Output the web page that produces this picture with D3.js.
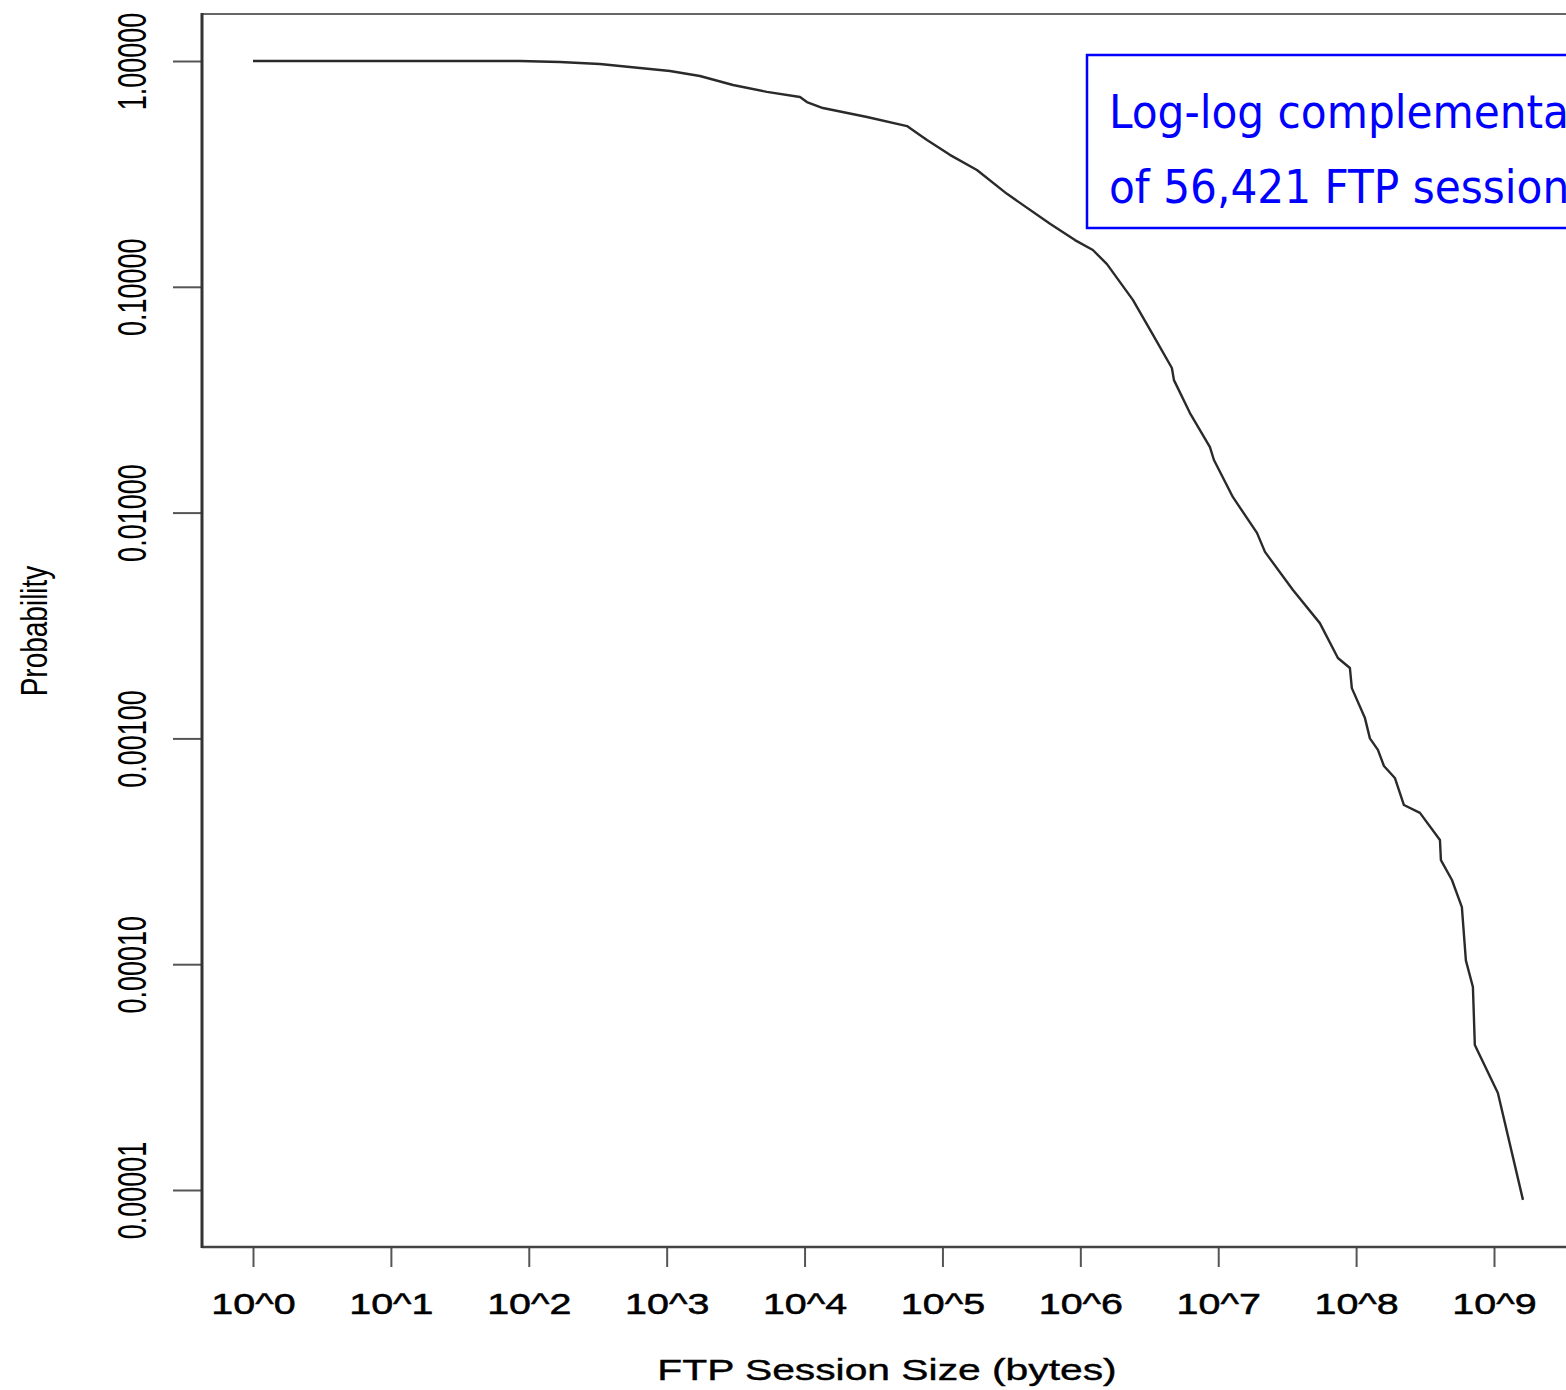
<!DOCTYPE html>
<html>
<head>
<meta charset="utf-8">
<script src="https://cdn.jsdelivr.net/npm/d3@7"></script>
<style>
  body { margin: 0; background: #fff; }
  svg { display: block; }
</style>
</head>
<body>
<svg id="chart" width="1566" height="1390"></svg>
<script>
// session size (bytes) vs. P(size > x)
var sizes = [1, 11.6, 86, 168, 328, 640, 1057, 1742, 3027, 5333, 9268, 10400, 13580,
  28380, 55340, 65310, 77270, 113200, 177800, 293800, 602600, 914100,
  1.233e6, 1.56e6, 2.404e6, 3.365e6, 4.613e6, 4.775e6, 6.237e6, 8.71e6, 9.311e6,
  1.279e7, 1.91e7, 2.183e7, 3.483e7, 5.458e7, 7.379e7, 9.016e7, 9.311e7,
  1.159e8, 1.259e8, 1.439e8, 1.592e8, 1.91e8, 2.223e8, 2.904e8, 4.055e8, 4.121e8,
  4.955e8, 5.848e8, 6.252e8, 7.031e8, 7.261e8, 1.067e9, 1.622e9];
var probs = [1, 1, 1, 0.990, 0.970, 0.931, 0.903, 0.858, 0.783, 0.730, 0.693, 0.658, 0.619,
  0.565, 0.515, 0.480, 0.447, 0.384, 0.329, 0.258, 0.190, 0.161,
  0.1455, 0.126, 0.0875, 0.0612, 0.0437, 0.0386, 0.0276, 0.0195, 0.0171,
  0.0117, 0.00813, 0.0067, 0.00454, 0.00324, 0.00227, 0.00205, 0.00167,
  0.00123, 0.00100, 0.000889, 0.000755, 0.000668, 0.000507, 0.000468, 0.000355, 0.000289,
  0.000236, 0.000179, 0.000104, 0.0000792, 0.0000439, 0.0000269, 0.00000904];

var xTicks = [1, 1e1, 1e2, 1e3, 1e4, 1e5, 1e6, 1e7, 1e8, 1e9];
var yTicks = [1, 0.1, 0.01, 0.001, 0.0001, 0.00001];
var xTitle = "FTP Session Size (bytes)";
var yTitle = "Probability";
var noteLines = ["Log-log complementary distribution", "of 56,421 FTP sessions"];

// plot frame (note: "top" is taken by window.top)
var frameL = 202, frameT = 14, frameB = 1247, frameR = 1566;

var svg = d3.select("#chart");

var x = d3.scaleLog().domain([1, 1e9]).range([253, 1494]);
var y = d3.scaleLog().domain([1e-5, 1]).range([1190, 61]);

var font = "'Liberation Sans', Arial, sans-serif";

// x axis
var gx = svg.append("g")
    .attr("transform", "translate(0," + frameB + ")")
    .call(d3.axisBottom(x)
      .tickValues(xTicks)
      .tickSize(20)
      .tickFormat(function(d) { return "10^" + Math.round(Math.log10(d)); }));
gx.select(".domain").remove();
gx.selectAll(".tick line").attr("stroke", "#555").attr("stroke-width", 2);
gx.selectAll(".tick text")
    .attr("y", 67)
    .attr("dy", null)
    .attr("transform", "scale(1.36,1)")
    .attr("fill", "#000")
    .attr("stroke", "#000")
    .attr("stroke-width", 0.5)
    .style("font-family", font)
    .style("font-size", "29px");

// y axis
var gy = svg.append("g")
    .attr("transform", "translate(" + frameL + ",0)")
    .call(d3.axisLeft(y)
      .tickValues(yTicks)
      .tickSize(29)
      .tickFormat(d3.format(".5f")));
gy.select(".domain").remove();
gy.selectAll(".tick line").attr("stroke", "#555").attr("stroke-width", 2);
gy.selectAll(".tick text")
    .attr("x", 0)
    .attr("dy", null)
    .attr("text-anchor", "middle")
    .attr("transform", "translate(-56,0) scale(1.5,1) rotate(-90)")
    .attr("fill", "#000")
    .style("font-family", font)
    .style("font-size", "27px");

// frame
svg.append("line").attr("x1", frameL).attr("x2", frameR).attr("y1", frameT).attr("y2", frameT)
    .attr("stroke", "#666").attr("stroke-width", 2);
svg.append("line").attr("x1", frameL).attr("x2", frameR).attr("y1", frameB).attr("y2", frameB)
    .attr("stroke", "#444").attr("stroke-width", 2.5);
svg.append("line").attr("x1", frameL).attr("x2", frameL).attr("y1", frameT - 1).attr("y2", frameB + 1)
    .attr("stroke", "#333").attr("stroke-width", 3);

// the curve
var pts = sizes.map(function(s, i) { return [s, probs[i]]; });
svg.append("path")
    .datum(pts)
    .attr("fill", "none")
    .attr("stroke", "#2a2a2a")
    .attr("stroke-width", 2.4)
    .attr("stroke-linejoin", "round")
    .attr("d", d3.line()
      .x(function(d) { return x(d[0]); })
      .y(function(d) { return y(d[1]); }));

// axis titles
svg.append("text")
    .attr("transform", "translate(887,1380) scale(1.36,1)")
    .attr("text-anchor", "middle")
    .attr("stroke", "#000")
    .attr("stroke-width", 0.4)
    .style("font-family", font)
    .style("font-size", "30px")
    .text(xTitle);

svg.append("text")
    .attr("transform", "translate(47,631) scale(1.35,1) rotate(-90)")
    .attr("text-anchor", "middle")
    .style("font-family", font)
    .style("font-size", "28px")
    .text(yTitle);

// annotation box, runs off the right edge as in the source
svg.append("rect")
    .attr("x", 1087).attr("y", 55)
    .attr("width", 700).attr("height", 173)
    .attr("fill", "#fff")
    .attr("stroke", "#0000ff")
    .attr("stroke-width", 2.5);

svg.selectAll(".note")
    .data(noteLines)
    .enter().append("text")
    .attr("class", "note")
    .attr("x", 1109)
    .attr("y", function(d, i) { return 128 + i * 75; })
    .attr("fill", "#0000ff")
    .style("font-family", "'DejaVu Sans Condensed', 'DejaVu Sans', sans-serif")
    .style("font-stretch", "condensed")
    .style("font-size", "47px")
    .text(function(d) { return d; });
</script>
</body>
</html>
